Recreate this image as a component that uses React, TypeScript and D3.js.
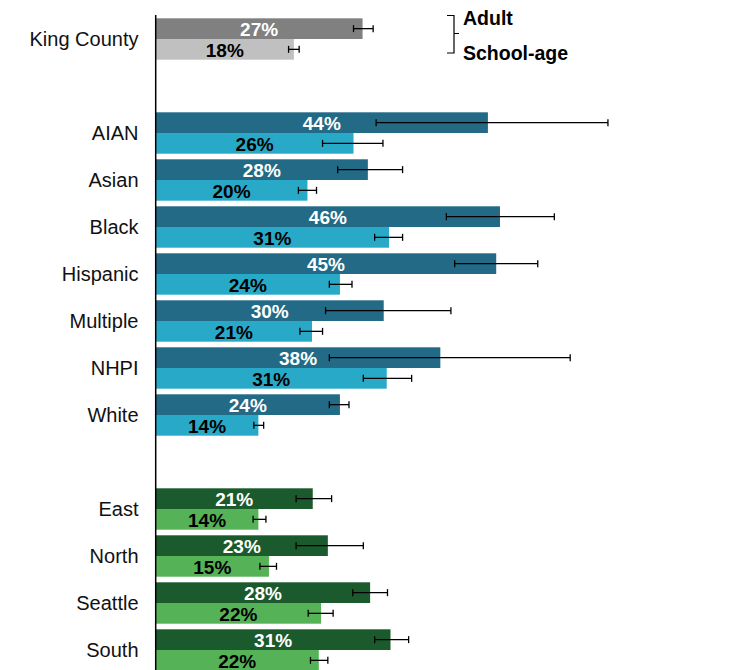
import React from "react";
import * as d3 from "d3";

const categories = ["King County", "AIAN", "Asian", "Black", "Hispanic", "Multiple", "NHPI", "White", "East", "North", "Seattle", "South"];
const groupOf = ["county", "race", "race", "race", "race", "race", "race", "race", "region", "region", "region", "region"];
const slotOrder = ["King County", "gap1", "AIAN", "Asian", "Black", "Hispanic", "Multiple", "NHPI", "White", "gap2", "East", "North", "Seattle", "South"];

const adultValues = [27.4, 44.0, 28.1, 45.6, 45.1, 30.2, 37.7, 24.4, 20.8, 22.8, 28.4, 31.1];
const adultLow = [26.2, 29.2, 24.1, 38.5, 39.6, 22.5, 23.0, 23.0, 18.6, 18.6, 26.1, 29.0];
const adultHigh = [28.8, 59.9, 32.7, 52.8, 50.6, 39.1, 54.9, 25.6, 23.3, 27.5, 30.7, 33.5];

const schoolValues = [18.3, 26.2, 20.1, 30.9, 24.4, 20.7, 30.6, 13.6, 13.6, 15.0, 21.9, 21.6];
const schoolLow = [17.6, 22.1, 18.9, 29.0, 23.0, 19.1, 27.5, 13.0, 12.9, 13.8, 20.2, 20.5];
const schoolHigh = [19.0, 30.1, 21.3, 32.7, 26.0, 22.1, 33.9, 14.3, 14.6, 16.0, 23.5, 22.8];

const legendLabels = ["Adult", "School-age"];

const colors: Record<string, [string, string]> = {
  county: ["#808080", "#c0c0c0"],
  race: ["#226a86", "#29a9c8"],
  region: ["#1a5a2d", "#55b257"],
};

export default function App() {
  const W = 750, H = 670;
  const x = d3.scaleLinear().domain([0, 60]).range([155.7, 155.7 + 7.55 * 60]);
  const y = d3.scaleBand<string>().domain(slotOrder).range([18.3, 18.3 + 47 * 14 - 5.6]).paddingInner(5.6 / 47).paddingOuter(0);
  const bh = y.bandwidth() / 2;
  const font = "'Liberation Sans', Arial, Helvetica, sans-serif";

  const series = [
    { key: "adult", values: adultValues, low: adultLow, high: adultHigh, idx: 0, text: "#ffffff" },
    { key: "school", values: schoolValues, low: schoolLow, high: schoolHigh, idx: 1, text: "#000000" },
  ];

  return (
    <svg width={W} height={H} style={{ position: "absolute", left: 0, top: 0, background: "#fff" }} fontFamily={font}>
      {categories.map((c, i) => {
        const y0 = y(c)!;
        return (
          <g key={c}>
            <text x={138.5} y={y0 + bh} dy="0.36em" textAnchor="end" fontSize={20} fill="#111">{c}</text>
            {series.map((s) => {
              const top = y0 + s.idx * bh;
              const v = s.values[i];
              const cy = top + bh / 2;
              return (
                <g key={s.key}>
                  <rect x={x(0)} y={top} width={x(v) - x(0)} height={bh} fill={colors[groupOf[i]][s.idx]} />
                  <text x={x(v / 2)} y={cy} dy="0.38em" textAnchor="middle" fontSize={19} fontWeight="bold" fill={s.text}>{Math.round(v) + "%"}</text>
                  <line x1={x(s.low[i])} x2={x(s.high[i])} y1={cy} y2={cy} stroke="#000" strokeWidth={1.3} />
                  <line x1={x(s.low[i])} x2={x(s.low[i])} y1={cy - 3.5} y2={cy + 3.5} stroke="#000" strokeWidth={1.3} />
                  <line x1={x(s.high[i])} x2={x(s.high[i])} y1={cy - 3.5} y2={cy + 3.5} stroke="#000" strokeWidth={1.3} />
                </g>
              );
            })}
          </g>
        );
      })}
      <line x1={x(0)} x2={x(0)} y1={15} y2={H} stroke="#000" strokeWidth={1.5} />
      <path d="M447,15.5 H454 V33.5 H459 M454,33.5 V53 H447" fill="none" stroke="#000" strokeWidth={1.2} />
      <text x={463} y={25} fontSize={19.5} fontWeight="bold" fill="#000">{legendLabels[0]}</text>
      <text x={463} y={59.5} fontSize={19.5} fontWeight="bold" fill="#000">{legendLabels[1]}</text>
    </svg>
  );
}
